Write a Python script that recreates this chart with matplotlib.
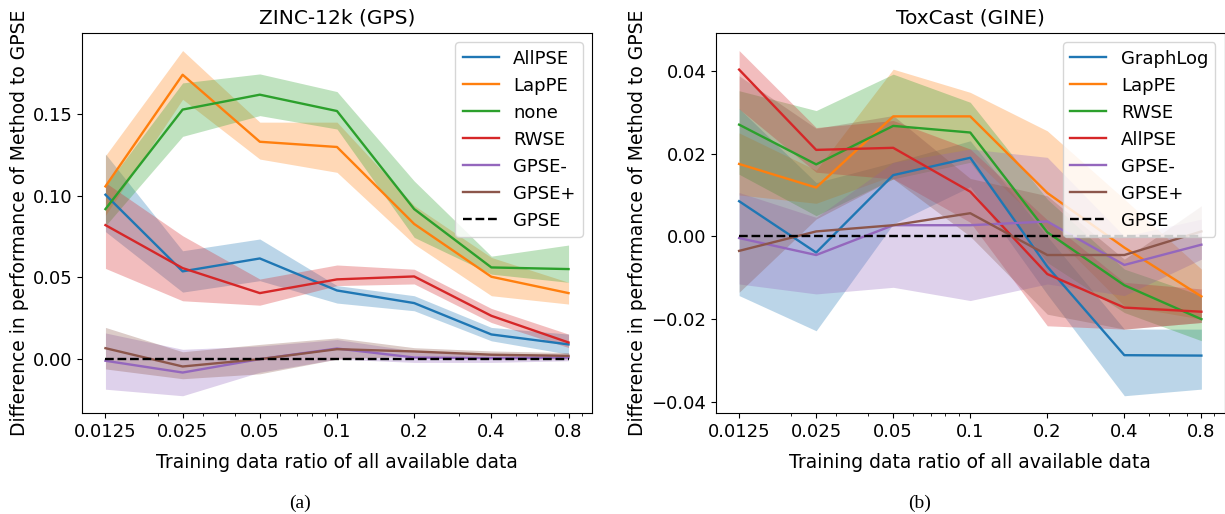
import numpy as np
import matplotlib
matplotlib.use("Agg")
import matplotlib.pyplot as plt
from matplotlib.ticker import FixedLocator, FixedFormatter, NullFormatter

ratios = [0.0125, 0.025, 0.05, 0.1, 0.2, 0.4, 0.8]
tick_labels = ["0.0125", "0.025", "0.05", "0.1", "0.2", "0.4", "0.8"]

# ---- ZINC-12k (GPS) ----
zinc_names = ["AllPSE", "LapPE", "none", "RWSE", "GPSE-", "GPSE+"]
zinc_allpse = [0.1006, 0.0537, 0.0616, 0.0420, 0.0343, 0.0151, 0.0090]
zinc_allpse_hi = [0.1255, 0.0663, 0.0735, 0.0450, 0.0388, 0.0194, 0.0153]
zinc_allpse_lo = [0.0780, 0.0410, 0.0480, 0.0343, 0.0296, 0.0112, 0.0030]
zinc_lappe = [0.1057, 0.1740, 0.1330, 0.1298, 0.0827, 0.0504, 0.0404]
zinc_lappe_hi = [0.1245, 0.1888, 0.1450, 0.1450, 0.0940, 0.0622, 0.0470]
zinc_lappe_lo = [0.0880, 0.1590, 0.1224, 0.1143, 0.0704, 0.0388, 0.0337]
zinc_none = [0.0918, 0.1527, 0.1618, 0.1518, 0.0918, 0.0561, 0.0551]
zinc_none_hi = [0.1060, 0.1690, 0.1745, 0.1637, 0.1090, 0.0630, 0.0698]
zinc_none_lo = [0.0816, 0.1363, 0.1490, 0.1408, 0.0745, 0.0520, 0.0470]
zinc_rwse = [0.0820, 0.0557, 0.0404, 0.0488, 0.0506, 0.0265, 0.0102]
zinc_rwse_hi = [0.1080, 0.0755, 0.0490, 0.0576, 0.0550, 0.0310, 0.0153]
zinc_rwse_lo = [0.0555, 0.0357, 0.0330, 0.0450, 0.0460, 0.0224, 0.0071]
zinc_gpsem = [-0.0010, -0.0082, 0.0000, 0.0065, 0.0010, 0.0006, 0.0010]
zinc_gpsem_hi = [0.0160, 0.0060, 0.0080, 0.0120, 0.0050, 0.0030, 0.0030]
zinc_gpsem_lo = [-0.0184, -0.0224, -0.0080, 0.0000, -0.0020, -0.0020, -0.0010]
zinc_gpsep = [0.0067, -0.0045, 0.0000, 0.0061, 0.0047, 0.0027, 0.0020]
zinc_gpsep_hi = [0.0194, 0.0045, 0.0090, 0.0130, 0.0070, 0.0050, 0.0040]
zinc_gpsep_lo = [-0.0060, -0.0120, -0.0090, 0.0000, 0.0020, 0.0000, 0.0000]

# ---- ToxCast (GINE) ----
tox_names = ["GraphLog", "LapPE", "RWSE", "AllPSE", "GPSE-", "GPSE+"]
tox_graphlog = [0.0085, -0.0039, 0.0148, 0.0190, -0.0073, -0.0287, -0.0288]
tox_graphlog_hi = [0.0309, 0.0130, 0.0179, 0.0231, 0.0000, -0.0224, -0.0224]
tox_graphlog_lo = [-0.0143, -0.0228, 0.0030, 0.0120, -0.0140, -0.0385, -0.0369]
tox_lappe = [0.0175, 0.0118, 0.0290, 0.0290, 0.0105, -0.0027, -0.0145]
tox_lappe_hi = [0.0250, 0.0160, 0.0404, 0.0348, 0.0255, 0.0090, -0.0079]
tox_lappe_lo = [0.0100, 0.0080, 0.0147, 0.0195, 0.0018, -0.0168, -0.0200]
tox_rwse = [0.0270, 0.0174, 0.0267, 0.0251, 0.0010, -0.0118, -0.0200]
tox_rwse_hi = [0.0352, 0.0304, 0.0392, 0.0324, 0.0090, -0.0079, -0.0143]
tox_rwse_lo = [0.0150, 0.0050, 0.0139, 0.0179, -0.0063, -0.0184, -0.0252]
tox_allpse = [0.0403, 0.0209, 0.0214, 0.0108, -0.0091, -0.0172, -0.0182]
tox_allpse_hi = [0.0449, 0.0263, 0.0280, 0.0211, 0.0040, -0.0111, -0.0127]
tox_allpse_lo = [0.0308, 0.0155, 0.0139, 0.0034, -0.0216, -0.0224, -0.0208]
tox_gpsem = [-0.0004, -0.0045, 0.0027, 0.0027, 0.0036, -0.0069, -0.0020]
tox_gpsem_hi = [0.0106, 0.0046, 0.0179, 0.0211, 0.0191, 0.0000, 0.0042]
tox_gpsem_lo = [-0.0115, -0.0139, -0.0123, -0.0155, -0.0115, -0.0143, -0.0055]
tox_gpsep = [-0.0035, 0.0012, 0.0027, 0.0056, -0.0045, -0.0045, 0.0012]
tox_gpsep_hi = [0.0388, 0.0261, 0.0292, 0.0140, 0.0098, -0.0055, 0.0074]
tox_gpsep_lo = [-0.0135, 0.0042, 0.0139, 0.0000, -0.0188, -0.0224, -0.0208]

colors = ["#1f77b4", "#ff7f0e", "#2ca02c", "#d62728", "#9467bd", "#8c564b"]

W, H = 1225, 514
fig = plt.figure(figsize=(W/100, H/100), dpi=100)
axL = fig.add_axes([82.3/W, 1-413/H, (591.7-82.3)/W, (413-33.3)/H])
axR = fig.add_axes([716/W, 1-413/H, (1224.5-716)/W, (413-33.3)/H])

zinc = [(zinc_allpse, zinc_allpse_lo, zinc_allpse_hi),
        (zinc_lappe, zinc_lappe_lo, zinc_lappe_hi),
        (zinc_none, zinc_none_lo, zinc_none_hi),
        (zinc_rwse, zinc_rwse_lo, zinc_rwse_hi),
        (zinc_gpsem, zinc_gpsem_lo, zinc_gpsem_hi),
        (zinc_gpsep, zinc_gpsep_lo, zinc_gpsep_hi)]
tox = [(tox_graphlog, tox_graphlog_lo, tox_graphlog_hi),
       (tox_lappe, tox_lappe_lo, tox_lappe_hi),
       (tox_rwse, tox_rwse_lo, tox_rwse_hi),
       (tox_allpse, tox_allpse_lo, tox_allpse_hi),
       (tox_gpsem, tox_gpsem_lo, tox_gpsem_hi),
       (tox_gpsep, tox_gpsep_lo, tox_gpsep_hi)]

def draw(ax, names, data, title):
    for name, (m, lo, hi), c in zip(names, data, colors):
        ax.plot(ratios, m, color=c, lw=1.7, label=name)
        ax.fill_between(ratios, lo, hi, color=c, alpha=0.3, lw=0)
    ax.plot(ratios, [0]*len(ratios), color="black", ls="--", lw=1.7, label="GPSE")
    ax.set_xscale("log")
    ax.xaxis.set_major_locator(FixedLocator(ratios))
    ax.xaxis.set_major_formatter(FixedFormatter(tick_labels))
    ax.xaxis.set_minor_formatter(NullFormatter())
    ax.tick_params(labelsize=13)
    ax.set_title(title, fontsize=14.5, pad=7)
    ax.set_xlabel("Training data ratio of all available data", fontsize=13.5, labelpad=9)
    ax.set_ylabel("Difference in performance of Method to GPSE", fontsize=13.5, labelpad=3)
    ax.legend(loc="upper right", fontsize=13, handlelength=2.0, labelspacing=0.5)

draw(axL, zinc_names, zinc, "ZINC-12k (GPS)")
draw(axR, tox_names, tox, "ToxCast (GINE)")
axL.set_yticks([0.0, 0.05, 0.10, 0.15])
axL.set_yticklabels(["0.00", "0.05", "0.10", "0.15"])
axR.set_yticks([-0.04, -0.02, 0.0, 0.02, 0.04])
axR.set_yticklabels(["\u22120.04", "\u22120.02", "0.00", "0.02", "0.04"])

fig.text(300/W, 1-503/H, "(a)", fontsize=14, family="Liberation Serif", ha="center", va="center")
fig.text(920/W, 1-503/H, "(b)", fontsize=14, family="Liberation Serif", ha="center", va="center")

fig.savefig("out.png", dpi=100)
